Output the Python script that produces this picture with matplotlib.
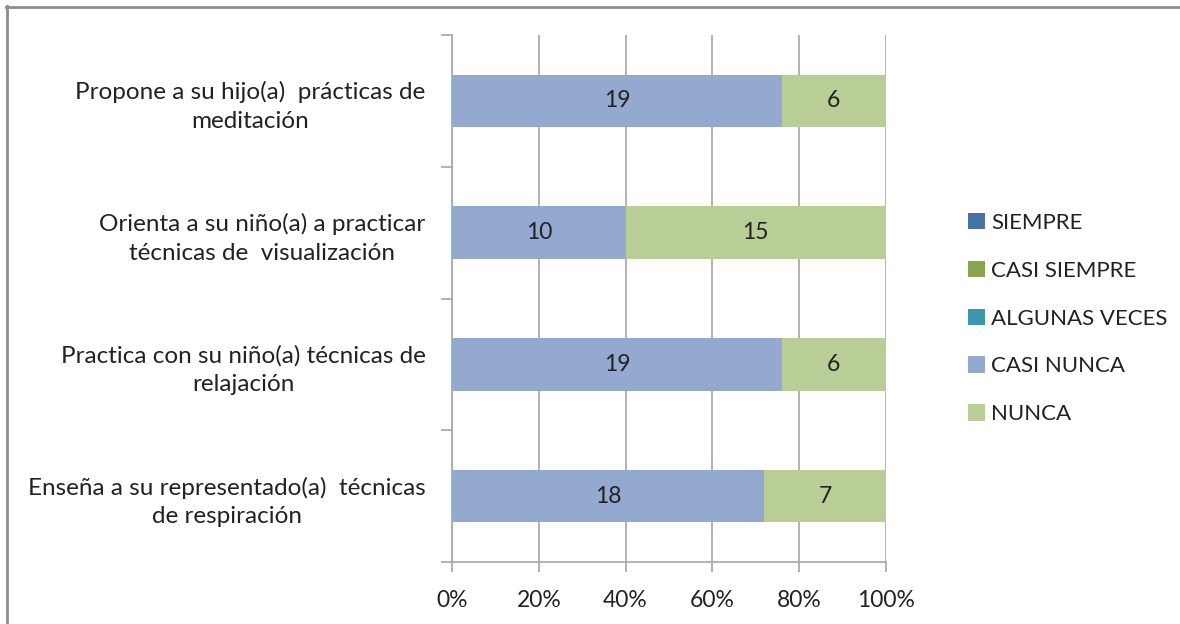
import matplotlib
matplotlib.use("Agg")
import matplotlib.pyplot as plt
import numpy as np

plt.rcParams['font.family'] = ['Lato', 'DejaVu Sans']

categories = [
    "Enseña a su representado(a)  técnicas\nde respiración",
    "Practica con su niño(a) técnicas de\nrelajación",
    "Orienta a su niño(a) a practicar\ntécnicas de  visualización",
    "Propone a su hijo(a)  prácticas de\nmeditación",
]
series_names = ["SIEMPRE", "CASI SIEMPRE", "ALGUNAS VECES", "CASI NUNCA", "NUNCA"]
siempre = [0, 0, 0, 0]
casi_siempre = [0, 0, 0, 0]
algunas_veces = [0, 0, 0, 0]
casi_nunca = [18, 19, 10, 19]
nunca = [7, 6, 15, 6]
colors = ["#4572A7", "#89A54E", "#3D96AE", "#93A9CF", "#B9CD96"]

values = np.array([siempre, casi_siempre, algunas_veces, casi_nunca, nunca], dtype=float)
totals = values.sum(axis=0)
pct = values / totals

fig = plt.figure(figsize=(11.8, 6.24), dpi=100)
ax = fig.add_axes([452 / 1180, 1 - 562 / 624, (886 - 452) / 1180, (562 - 35) / 624])

y = np.arange(len(categories))
left = np.zeros(len(categories))
for i, name in enumerate(series_names):
    bars = ax.barh(y, pct[i], left=left, height=0.4, color=colors[i], label=name, zorder=3)
    for j, b in enumerate(bars):
        if values[i, j] > 0:
            ax.text(left[j] + pct[i, j] / 2, y[j], f"{int(values[i, j])}",
                    ha='center', va='center', fontsize=16.5, color='#222222', zorder=4)
    left += pct[i]

ax.set_xlim(0, 1)
ax.set_ylim(-0.5, len(categories) - 0.5)
ax.set_xticks(np.linspace(0, 1, 6))
ax.set_xticklabels([f"{int(v)}%" for v in np.linspace(0, 100, 6)], fontsize=16.5, color='#222222')
ax.xaxis.grid(True, color='#A6A6A6', linewidth=1.2, zorder=0)

# category boundary ticks on the y axis, labels in the middle
ax.set_yticks(np.arange(-0.5, len(categories), 1.0))
ax.set_yticklabels([])
ax.set_yticks(y, minor=True)
ax.set_yticklabels(categories, minor=True, fontsize=17.5, color='#222222',
                   multialignment='center', linespacing=1.45)
ax.tick_params(axis='y', which='major', length=8, color='#A6A6A6', width=1.2)
ax.tick_params(axis='y', which='minor', length=0, pad=19)
ax.tick_params(axis='x', length=7, color='#A6A6A6', width=1.2, pad=13)

for s in ['top', 'right']:
    ax.spines[s].set_visible(False)
for s in ['left', 'bottom']:
    ax.spines[s].set_color('#A6A6A6')
    ax.spines[s].set_linewidth(1.2)

ax.legend(loc='upper left', bbox_to_anchor=(948 / 1180, 1 - 193 / 624), bbox_transform=fig.transFigure,
          frameon=False, fontsize=16, handlelength=0.75, handleheight=0.75, handletextpad=0.3,
          labelspacing=1.25, labelcolor='#222222')

# outer border (top and left visible)
fig.add_artist(plt.Line2D([6 / 1180, 1], [1 - 7 / 624, 1 - 7 / 624], transform=fig.transFigure,
                          color='#8C8C8C', linewidth=2))
fig.add_artist(plt.Line2D([7 / 1180, 7 / 1180], [0, 1 - 6 / 624], transform=fig.transFigure,
                          color='#8C8C8C', linewidth=2))

fig.savefig("out.png", dpi=100)
